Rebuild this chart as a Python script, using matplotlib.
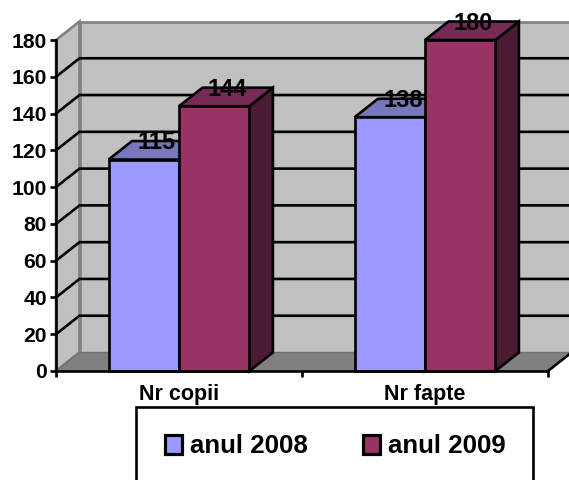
import numpy as np
import matplotlib
matplotlib.use('Agg')
import matplotlib.pyplot as plt
from matplotlib.patches import Polygon, Rectangle

categories = ['Nr copii', 'Nr fapte']
series_names = ['anul 2008', 'anul 2009']
values_2008 = [115, 138]
values_2009 = [144, 180]
y_ticks = [0, 20, 40, 60, 80, 100, 120, 140, 160, 180]

W, H = 569, 480
plt.rcParams['font.family'] = ['Liberation Sans', 'DejaVu Sans']
plt.rcParams['font.weight'] = 'bold'

fig = plt.figure(figsize=(W / 100, H / 100), dpi=100)
# front plane of the fake 3d box, in pixels
left, right, bottom, top = 56, 548, 371, 40
ax = fig.add_axes([left / W, 1 - bottom / H, (right - left) / W, (bottom - top) / H])
ax.set_xlim(0, 2)
ax.set_ylim(0, 180)
ax.patch.set_visible(False)

# depth of the box in data units
dx = 23.5 / ((right - left) / 2)
dy = 18.5 / ((bottom - top) / 180)
bar_w = 70.4 / ((right - left) / 2)
lw = 1.9
wall = '#C0C0C0'
edge = '#808080'


def poly(pts, fc, ec='black', z=1, line=lw):
    ax.add_patch(Polygon(pts, closed=True, facecolor=fc, edgecolor=ec, linewidth=line,
                         joinstyle='miter', clip_on=False, zorder=z))


# walls and floor
poly([(dx, dy), (2 + dx, dy), (2 + dx, 180 + dy), (dx, 180 + dy)], wall, edge, 1)
poly([(0, 0), (dx, dy), (dx, 180 + dy), (0, 180)], wall, edge, 1)
poly([(0, 0), (2, 0), (2 + dx, dy), (dx, dy)], edge, '#707070', 1, 1.0)
ax.plot([2, 2 + dx], [0, dy], color='black', lw=lw, clip_on=False, zorder=2)

# gridlines
for t in y_ticks[1:-1]:
    ax.plot([0, dx, 2 + dx], [t, t + dy, t + dy], color='black', lw=lw,
            clip_on=False, zorder=2, solid_joinstyle='miter')

colors = [('#9999FF', '#7777BB', '#4D4D80'), ('#993366', '#772A55', '#4D1A33')]
for i, vals in enumerate([values_2008, values_2009]):
    for c, v in enumerate(vals):
        x0 = c + 0.5 - bar_w + i * bar_w
        x1 = x0 + bar_w
        front, up, side = colors[i]
        poly([(x1, 0), (x1 + dx, dy), (x1 + dx, v + dy), (x1, v)], side, z=3 + i)
        poly([(x0, v), (x1, v), (x1 + dx, v + dy), (x0 + dx, v + dy)], up, z=3 + i)
        poly([(x0, 0), (x1, 0), (x1, v), (x0, v)], front, z=3 + i)
        # nudge labels a little to sit where the original has them
        ax.annotate(str(v), ((x0 + x1 + dx) / 2, v + dy), xytext=(1, -1.2),
                    textcoords='offset points', ha='center', va='center',
                    fontsize=17, fontweight='bold', color='black', zorder=6,
                    annotation_clip=False)

# axes
for s in ['top', 'right']:
    ax.spines[s].set_visible(False)
for s in ['left', 'bottom']:
    ax.spines[s].set_linewidth(lw)
    ax.spines[s].set_zorder(7)
ax.set_yticks(y_ticks)
ax.set_xticks([0, 1, 2])
ax.set_xticklabels([])
ax.set_xticks([0.5, 1.5], minor=True)
ax.set_xticklabels(categories, minor=True, fontsize=15.5, fontweight='bold')
ax.tick_params(axis='x', which='minor', length=0, pad=9.5)
ax.tick_params(axis='x', which='major', length=4.5, width=lw)
ax.tick_params(axis='y', length=4.5, width=lw, pad=2, labelsize=15.2)
for lab in ax.get_yticklabels():
    lab.set_fontweight('bold')


# legend, box runs off the bottom edge of the picture
def px(x, y):
    return x / W, 1 - y / H


fig.add_artist(Rectangle(px(136, 490), 397 / W, 83 / H, transform=fig.transFigure,
                         facecolor='white', edgecolor='black', linewidth=lw))
for (sx, tx), name, col in zip([(165, 190), (363, 388)], series_names, colors):
    fig.add_artist(Rectangle(px(sx, 454), 17 / W, 19 / H, transform=fig.transFigure,
                             facecolor=col[0], edgecolor='black', linewidth=lw * 1.2))
    fig.text(*px(tx, 446), name, ha='left', va='center', fontsize=18.6, fontweight='bold')

fig.savefig('out.png', dpi=100)
